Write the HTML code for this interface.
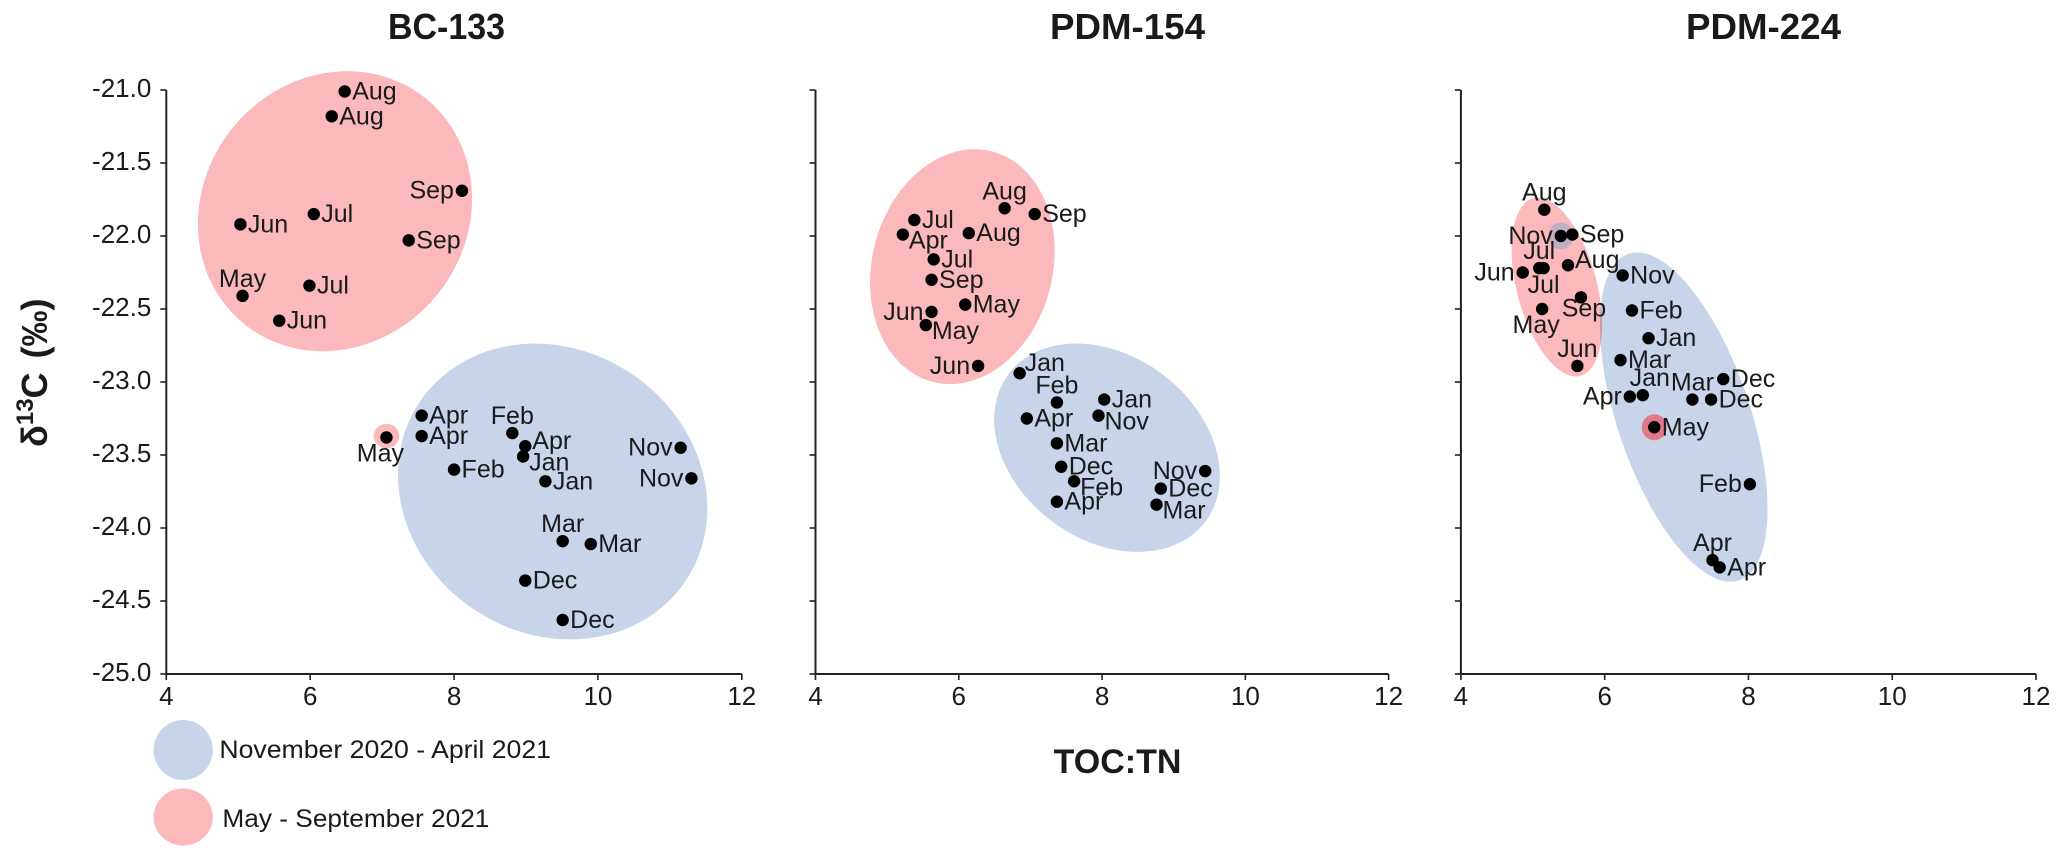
<!DOCTYPE html>
<html lang="en">
<head>
<meta charset="utf-8">
<title>TOC:TN versus δ13C scatter panels</title>
<style>
html,body{margin:0;padding:0;background:#fff;}
svg{display:block;font-family:"Liberation Sans",sans-serif;fill:#1a1a1a;}
.title{font-size:36px;font-weight:bold;text-anchor:middle;}
.axis-title{font-size:34px;font-weight:bold;}
.tick{font-size:26px;}
.point-label{font-size:25px;}
.legend-text{font-size:25px;}
</style>
</head>
<body>
<svg id="chart" xmlns="http://www.w3.org/2000/svg" width="2067" height="858" viewBox="0 0 2067 858">
  <text class="title" x="446.5" y="39" textLength="117" lengthAdjust="spacingAndGlyphs">BC-133</text>
  <text class="title" x="1127.5" y="39" textLength="155" lengthAdjust="spacingAndGlyphs">PDM-154</text>
  <text class="title" x="1763.5" y="39" textLength="155" lengthAdjust="spacingAndGlyphs">PDM-224</text>
  <text class="axis-title" style="font-size:36px;word-spacing:4px" transform="translate(47,447) rotate(-90)">δ<tspan font-size="24" dy="-14">13</tspan><tspan dy="14">C (‰)</tspan></text>
  <text class="axis-title" x="1117.5" y="773" text-anchor="middle">TOC:TN</text>
  <ellipse cx="183.2" cy="750" rx="29.6" ry="30" fill="#c7d4ea"></ellipse>
  <text class="legend-text" x="219.4" y="758" textLength="331.6" lengthAdjust="spacingAndGlyphs">November 2020 - April 2021</text>
  <ellipse cx="183.2" cy="817" rx="29.6" ry="28.5" fill="#fbb9bb"></ellipse>
  <text class="legend-text" x="222.4" y="827" textLength="267" lengthAdjust="spacingAndGlyphs">May - September 2021</text>
</svg>
<script>
// Shared axis ticks
const xTickLabels = ["4", "6", "8", "10", "12"];
const yTickLabels = ["-21.0", "-21.5", "-22.0", "-22.5", "-23.0", "-23.5", "-24.0", "-24.5", "-25.0"];

// BC-133
const bc133Months = ["Aug","Aug","Sep","Jul","Jun","Sep","May","Jul","Jun","Apr","May","Apr","Feb","Apr","Jan","Feb","Jan","Nov","Nov","Mar","Mar","Dec","Dec"];
const bc133TocTn = [6.48,6.30,8.11,6.05,5.03,7.37,5.06,5.99,5.57,7.55,7.06,7.55,8.81,8.99,8.96,8.00,9.27,11.15,11.30,9.51,9.90,8.99,9.51];
const bc133Delta = [-21.01,-21.18,-21.69,-21.85,-21.92,-22.03,-22.41,-22.34,-22.58,-23.23,-23.38,-23.37,-23.35,-23.44,-23.51,-23.60,-23.68,-23.45,-23.66,-24.09,-24.11,-24.36,-24.63];
const bc133Sides = ["r","r","l","r","r","r","t","r","r","r","bl","r","t","ri","rd","r","r","l","l","t","r","r","r"];

// PDM-154
const pdm154Months = ["Aug","Sep","Jul","Apr","Aug","Jul","Sep","May","Jun","May","Jun","Jan","Feb","Jan","Nov","Apr","Mar","Dec","Feb","Apr","Nov","Dec","Mar"];
const pdm154TocTn = [6.64,7.06,5.38,5.22,6.14,5.65,5.62,6.09,5.62,5.54,6.27,6.85,7.37,8.03,7.95,6.95,7.37,7.43,7.61,7.37,9.44,8.82,8.76];
const pdm154Delta = [-21.81,-21.85,-21.89,-21.99,-21.98,-22.16,-22.30,-22.47,-22.52,-22.61,-22.89,-22.94,-23.14,-23.12,-23.23,-23.25,-23.42,-23.58,-23.68,-23.82,-23.61,-23.73,-23.84];
const pdm154Sides = ["t","r","r","rd","r","r","r","r","l","rd","l","ru","t","r","rd","r","r","r","rd","r","l","r","rd"];

// PDM-224
const pdm224Months = ["Aug","Sep","Nov","Jul","Jul","Aug","Jun","Nov","Sep","May","Feb","Jan","Mar","Jun","Dec","Jan","Apr","Mar","Dec","May","Feb","Apr","Apr"];
const pdm224TocTn = [5.16,5.55,5.39,5.09,5.15,5.49,4.86,6.25,5.67,5.13,6.38,6.61,6.22,5.62,7.65,6.53,6.35,7.22,7.48,6.69,8.02,7.50,7.60];
const pdm224Delta = [-21.82,-21.99,-22.00,-22.22,-22.22,-22.20,-22.25,-22.27,-22.42,-22.50,-22.51,-22.70,-22.85,-22.89,-22.98,-23.09,-23.10,-23.12,-23.12,-23.31,-23.70,-24.22,-24.27];
const pdm224Sides = ["t","r","l","t","b","ri","l","r","bs","bl","r","r","r","t","r","tr","l","t","r","r","l","t","r"];

// Grouping ellipses: centres in data units
const bc133GroupCentres = [[9.37,-23.75],[6.345,-21.83],[7.06,-23.37]];
const pdm154GroupCentres = [[8.07,-23.45],[6.05,-22.21]];
const pdm224GroupCentres = [[7.10,-23.24],[5.335,-22.35],[5.39,-22.00],[6.69,-23.31]];

// Layout (pixels), kept apart from the data
const plotTop = 90, plotBottom = 674;
const panels = [
  {key:"bc-133", left:166.3, right:741.8, months:bc133Months, xs:bc133TocTn, ys:bc133Delta, sides:bc133Sides, centres:bc133GroupCentres,
   shapes:[{n:"winter",rx:160.3,ry:141.8,rot:34.2,fill:"#c7d4ea"},{n:"summer",rx:144.8,ry:132,rot:-51.7,fill:"#fbb9bb",mult:true},{n:"may-outlier",rx:12.8,ry:12.2,rot:0,fill:"#fbb9bb"}]},
  {key:"pdm-154", left:815.5, right:1388.6, months:pdm154Months, xs:pdm154TocTn, ys:pdm154Delta, sides:pdm154Sides, centres:pdm154GroupCentres,
   shapes:[{n:"winter",rx:123,ry:92,rot:36.8,fill:"#c7d4ea"},{n:"summer",rx:119,ry:90.3,rot:-75.7,fill:"#fbb9bb",mult:true}]},
  {key:"pdm-224", left:1460.9, right:2036, months:pdm224Months, xs:pdm224TocTn, ys:pdm224Delta, sides:pdm224Sides, centres:pdm224GroupCentres,
   shapes:[{n:"winter",rx:172.4,ry:66.5,rot:71.3,fill:"#c7d4ea"},{n:"summer",rx:91.8,ry:40,rot:75.1,fill:"#fbb9bb",mult:true},{n:"nov-outlier",rx:12.5,ry:13.5,rot:0,fill:"#c0aec4"},{n:"may-outlier",rx:12.5,ry:13,rot:0,fill:"#e07a88"}]}
];
const labelOffsets = {
  r:{dx:7.5,dy:8,anchor:"start"}, l:{dx:-8,dy:8,anchor:"end"},
  ru:{dx:5,dy:-2,anchor:"start"}, rd:{dx:6,dy:14,anchor:"start"}, ri:{dx:7,dy:3,anchor:"start"},
  t:{dx:0,dy:-9,anchor:"middle"}, tr:{dx:7,dy:-9,anchor:"middle"},
  b:{dx:0,dy:25,anchor:"middle"}, bl:{dx:-6,dy:24,anchor:"middle"}, bs:{dx:3,dy:19,anchor:"middle"}
};

const NS = "http://www.w3.org/2000/svg";
const root = document.getElementById("chart");
const xMin = Number(xTickLabels[0]), xMax = Number(xTickLabels[xTickLabels.length - 1]);
const yMax = Number(yTickLabels[0]), yMin = Number(yTickLabels[yTickLabels.length - 1]);
function scaleX(p, v) { return p.left + (v - xMin) / (xMax - xMin) * (p.right - p.left); }
function scaleY(v) { return plotTop + (yMax - v) / (yMax - yMin) * (plotBottom - plotTop); }
function make(tag, attrs, parent) {
  const el = document.createElementNS(NS, tag);
  for (const k in attrs) el.setAttribute(k, attrs[k]);
  parent.appendChild(el);
  return el;
}

panels.forEach(function (p) {
  const g = make("g", {}, root);
  
  

  p.shapes.forEach(function (s, i) {
    const cx = scaleX(p, p.centres[i][0]), cy = scaleY(p.centres[i][1]);
    const e = make("ellipse", {cx:cx, cy:cy, rx:s.rx, ry:s.ry, fill:s.fill, transform:"rotate(" + s.rot + " " + cx + " " + cy + ")"}, g);
    if (s.mult) e.style.mixBlendMode = "multiply";
    
    
  });

  const yAxis = make("line", {x1:p.left, x2:p.left, y1:plotTop, y2:plotBottom, stroke:"#222", "stroke-width":2}, g);
  
  
  const xAxis = make("line", {x1:p.left, x2:p.right, y1:plotBottom, y2:plotBottom, stroke:"#222", "stroke-width":2}, g);
  
  

  yTickLabels.forEach(function (lab) {
    const y = scaleY(Number(lab));
    const t = make("line", {x1:p.left - 6, x2:p.left, y1:y, y2:y, stroke:"#222", "stroke-width":1.6}, g);
    
    
    if (p.key === "bc-133") {
      const tx = make("text", {x:p.left - 15, y:y + 7, "text-anchor":"end", "class":"tick"}, g);
      tx.textContent = lab;
      
      
    }
  });

  xTickLabels.forEach(function (lab) {
    const x = scaleX(p, Number(lab));
    const t = make("line", {x1:x, x2:x, y1:plotBottom, y2:plotBottom + 6, stroke:"#222", "stroke-width":1.6}, g);
    
    
    const tx = make("text", {x:x, y:plotBottom + 31, "text-anchor":"middle", "class":"tick"}, g);
    tx.textContent = lab;
    
    
  });

  p.months.forEach(function (m, i) {
    const x = scaleX(p, p.xs[i]), y = scaleY(p.ys[i]);
    const o = labelOffsets[p.sides[i]];
    const tx = make("text", {x:x + o.dx, y:y + o.dy, "text-anchor":o.anchor, "class":"point-label"}, g);
    tx.textContent = m;
    
    
    const c = make("circle", {cx:x, cy:y, r:6.2, fill:"#000"}, g);
    
    
  });
});
</script>
</body>
</html>
